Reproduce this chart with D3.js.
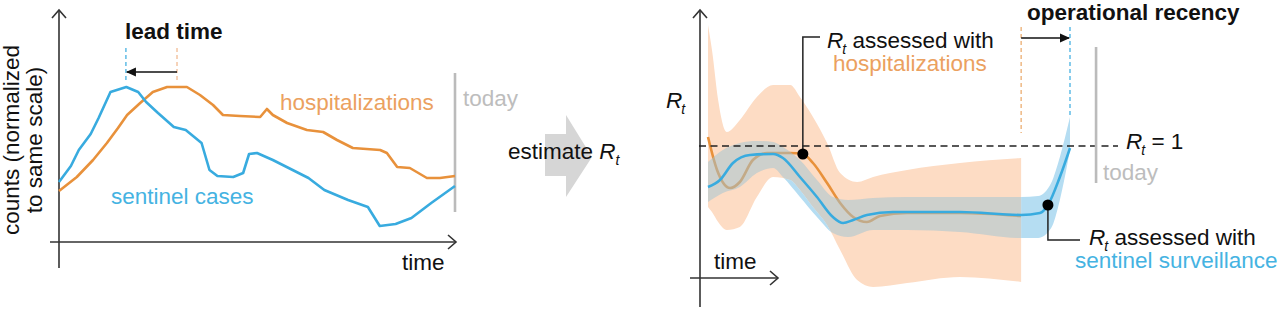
<!DOCTYPE html>
<html><head><meta charset="utf-8">
<script src="https://cdn.jsdelivr.net/npm/d3@7"></script>
<style>body{margin:0;background:#fff;} svg{display:block;font-family:"Liberation Sans",Arial,sans-serif;}</style>
</head><body><svg id="c" width="1280" height="309"></svg>
<script>
// ---------- DATA (left panel: time 0-100, counts normalized 0-100) ----------
const sentTime = [0,3,5,8,10,13,17,20,22,25,29,32,36,38,40,44,46.5,48,50,54,58,63,67,73,78,81,85,89,94,100];
const sentCounts = [30,38,46,54,62,75,77.5,75,70,64.5,57.5,56,49.5,36,33,32.5,34.5,44,44.5,41,37,32,26,21,17.5,8,9,12,19.5,28];
const hospTime = [0,4.5,8.6,12.1,14.9,17.2,20.5,23.7,27.3,32.3,35.6,38.9,41.4,45.7,50.8,52.5,54,57.6,62.6,66.7,70.2,74.2,81.1,82.8,85.4,88.6,92.9,96.2,100];
const hospCounts = [25.5,32.5,41,49.5,57,63.5,69.5,75,77.5,77.5,73.5,68.5,63.5,63,62.5,66.5,63.5,59.5,56,55,51,47,46,44.5,37.5,37,32,32,33];
const leadPeaks = [16.9, 29.8];      // peak times (sentinel, hospitalizations)
const todayLeft = 100;

// ---------- DATA (right panel: time 0-100, Rt) ----------
const hospRtTime = [0,2.5,6.1,8.8,12.4,16.3,22.7,26.2,29,32.9,36.5,40.1,43.9,47.5,55,69.6,86.5];
const hospRt = [1.045,0.88,0.79,0.82,0.93,0.965,0.965,0.96,0.915,0.815,0.715,0.645,0.62,0.65,0.665,0.665,0.65];
const hospBandTime = [0,1.1,2.8,5.2,8.8,13.5,18,22.7,25.4,29,32.9,36.5,41.2,45.6,55,69.6,86.5];
const hospBandHi = [1.605,1.48,1.23,1.07,1.13,1.245,1.305,1.305,1.245,1.145,1.015,0.865,0.82,0.845,0.88,0.915,0.94];
const hospBandLo = [0.695,0.67,0.62,0.58,0.595,0.745,0.845,0.83,0.78,0.695,0.605,0.48,0.33,0.295,0.315,0.345,0.32];
const sentRtTime = [0,3.3,6.9,11.6,18,20.7,25.4,30.1,34.5,37.3,40.1,43.9,51.1,69.6,86.5,91.7,93.9,97.2,100];
const sentRt = [0.795,0.83,0.915,0.955,0.96,0.94,0.845,0.745,0.645,0.615,0.63,0.655,0.67,0.67,0.655,0.665,0.705,0.845,0.99];
const sentBandTime = [0,4.1,8.8,13.5,18,20.7,25.4,30.1,34.5,38.7,45.6,55,69.6,86.5,91.2,94.8,97.2,100];
const sentBandHi = [0.92,0.98,1.015,1.025,1.02,0.995,0.93,0.83,0.745,0.73,0.74,0.745,0.745,0.745,0.75,0.815,0.945,1.145];
const sentBandLo = [0.72,0.765,0.795,0.865,0.89,0.845,0.745,0.645,0.565,0.545,0.58,0.58,0.57,0.54,0.54,0.59,0.73,0.98];
const rtThreshold = 1;
const recency = [86.5, 100];         // last estimate: hospitalizations, sentinel
const todayRight = 107.2;
const hospDotT = 26.2, sentDotT = 93.9;

// ---------- STYLE ----------
const BLUE = "#38abdf", ORANGE = "#e8913b", BLUE_TXT = "#45b3e2", ORANGE_TXT = "#eba15f";
const PEACH = "#fddcc4", BAND_BLUE = "#b5ddf2", GRAYTXT = "#bdbdbd", AX = "#333";
const FS = 22.5;

const svg = d3.select("#c");
const defs = svg.append("defs");
defs.append("marker").attr("id","ah").attr("viewBox","0 0 10 10").attr("refX",9).attr("refY",5)
  .attr("markerWidth",10).attr("markerHeight",10).attr("markerUnits","userSpaceOnUse").attr("orient","auto")
  .append("path").attr("d","M0,0.5 L10,5 L0,9.5 Z").attr("fill","#111");

// ---------- LEFT PANEL ----------
const xL = d3.scaleLinear().domain([0,100]).range([59,455]);
const yL = d3.scaleLinear().domain([0,100]).range([242,42]);
const L = svg.append("g");
L.append("line").attr("x1",59).attr("x2",59).attr("y1",268).attr("y2",10).attr("stroke",AX).attr("stroke-width",1.6);
L.append("path").attr("d","M52,18 L59,10 L66,18").attr("fill","none").attr("stroke",AX).attr("stroke-width",1.6);
L.append("line").attr("x1",50).attr("x2",456).attr("y1",242).attr("y2",242).attr("stroke",AX).attr("stroke-width",1.6);
L.append("path").attr("d","M448,235 L456,242 L448,249").attr("fill","none").attr("stroke",AX).attr("stroke-width",1.6);

L.append("line").attr("x1",xL(todayLeft)).attr("x2",xL(todayLeft)).attr("y1",73).attr("y2",212)
  .attr("stroke","#bbb").attr("stroke-width",2.6);

const lineL = (xs, ys) => d3.line().x((d,i)=>xL(xs[i])).y(d=>yL(d))(ys);
L.append("path").attr("d",lineL(hospTime,hospCounts)).attr("fill","none").attr("stroke",ORANGE).attr("stroke-width",2.6).attr("stroke-linejoin","round");
L.append("path").attr("d",lineL(sentTime,sentCounts)).attr("fill","none").attr("stroke",BLUE).attr("stroke-width",2.6).attr("stroke-linejoin","round");

// lead time
L.append("line").attr("x1",xL(leadPeaks[0])).attr("x2",xL(leadPeaks[0])).attr("y1",yL(97)).attr("y2",yL(81))
  .attr("stroke",BLUE).attr("stroke-width",1.2).attr("stroke-dasharray","4,3");
L.append("line").attr("x1",xL(leadPeaks[1])).attr("x2",xL(leadPeaks[1])).attr("y1",yL(97)).attr("y2",yL(81))
  .attr("stroke","#f0b68a").attr("stroke-width",1.2).attr("stroke-dasharray","4,3");
L.append("line").attr("x1",xL(leadPeaks[1])).attr("x2",xL(leadPeaks[0])+1).attr("y1",yL(85)).attr("y2",yL(85))
  .attr("stroke","#111").attr("stroke-width",1.6).attr("marker-end","url(#ah)");

L.append("text").attr("x",125).attr("y",39).attr("font-size",FS).attr("font-weight","bold").attr("fill","#111").text("lead time");
L.append("text").attr("x",280).attr("y",110).attr("font-size",FS).attr("fill",ORANGE_TXT).text("hospitalizations");
L.append("text").attr("x",111).attr("y",204).attr("font-size",FS).attr("fill",BLUE_TXT).text("sentinel cases");
L.append("text").attr("x",463).attr("y",106).attr("font-size",FS).attr("fill",GRAYTXT).text("today");
L.append("text").attr("x",402).attr("y",270).attr("font-size",FS).attr("fill","#111").text("time");
const yl = L.append("text").attr("transform","translate(19,140) rotate(-90)").attr("text-anchor","middle").attr("font-size",FS).attr("fill","#111");
yl.append("tspan").attr("x",0).attr("y",0).text("counts (normalized");
yl.append("tspan").attr("x",0).attr("y",23).text("to same scale)");

// ---------- MIDDLE ARROW ----------
svg.append("polygon").attr("points","545,134 566,134 566,115 592,157 566,197 566,176 545,176").attr("fill","#d6d6d6");
const est = svg.append("text").attr("x",508).attr("y",159).attr("font-size",FS).attr("fill","#111");
est.append("tspan").text("estimate ");
est.append("tspan").attr("font-style","italic").text("R");
est.append("tspan").attr("font-style","italic").attr("font-size",14).attr("dy",6).text("t");

// ---------- RIGHT PANEL ----------
const xR = d3.scaleLinear().domain([0,100]).range([708,1070]);
const yR = d3.scaleLinear().domain([0,2]).range([346,-54]);
const R = svg.append("g");

const hospArea = d3.area().x((d,i)=>xR(hospBandTime[i])).y0((d,i)=>yR(hospBandLo[i])).y1(d=>yR(d)).curve(d3.curveMonotoneX)(hospBandHi);
const sentArea = d3.area().x((d,i)=>xR(sentBandTime[i])).y0((d,i)=>yR(sentBandLo[i])).y1(d=>yR(d)).curve(d3.curveMonotoneX)(sentBandHi);

const mask = defs.append("mask").attr("id","outsideHosp");
mask.append("rect").attr("x",0).attr("y",0).attr("width",1280).attr("height",309).attr("fill","#fff");
mask.append("path").attr("d",hospArea).attr("fill","#000");
defs.append("clipPath").attr("id","insideHosp").append("path").attr("d",hospArea);

R.append("path").attr("d",hospArea).attr("fill",PEACH);
const lineR = (xs, ys) => d3.line().x((d,i)=>xR(xs[i])).y(d=>yR(d)).curve(d3.curveMonotoneX)(ys);
R.append("path").attr("d",lineR(hospRtTime,hospRt)).attr("fill","none").attr("stroke",ORANGE).attr("stroke-width",2.6);
R.append("path").attr("d",sentArea).attr("fill",BAND_BLUE).attr("mask","url(#outsideHosp)");
R.append("path").attr("d",sentArea).attr("fill","#9dc4d4").attr("fill-opacity",0.5).attr("clip-path","url(#insideHosp)");
R.append("path").attr("d",lineR(sentRtTime,sentRt)).attr("fill","none").attr("stroke",BLUE).attr("stroke-width",2.6);

// axes
R.append("line").attr("x1",700).attr("x2",700).attr("y1",307).attr("y2",10).attr("stroke",AX).attr("stroke-width",1.6);
R.append("path").attr("d","M693,18 L700,10 L707,18").attr("fill","none").attr("stroke",AX).attr("stroke-width",1.6);
R.append("line").attr("x1",690).attr("x2",778).attr("y1",278).attr("y2",278).attr("stroke",AX).attr("stroke-width",1.6);
R.append("path").attr("d","M770,271 L778,278 L770,285").attr("fill","none").attr("stroke",AX).attr("stroke-width",1.6);

// Rt = 1
R.append("line").attr("x1",699).attr("x2",1118).attr("y1",yR(rtThreshold)).attr("y2",yR(rtThreshold))
  .attr("stroke","#222").attr("stroke-width",1.4).attr("stroke-dasharray","7,4.5");
// today
R.append("line").attr("x1",xR(todayRight)).attr("x2",xR(todayRight)).attr("y1",47).attr("y2",183).attr("stroke","#bbb").attr("stroke-width",2.6);
// recency
R.append("line").attr("x1",xR(recency[0])).attr("x2",xR(recency[0])).attr("y1",27).attr("y2",133)
  .attr("stroke","#eaa765").attr("stroke-width",1.2).attr("stroke-dasharray","4,3");
R.append("line").attr("x1",xR(recency[1])).attr("x2",xR(recency[1])).attr("y1",27).attr("y2",117)
  .attr("stroke",BLUE).attr("stroke-width",1.2).attr("stroke-dasharray","4,3");
R.append("line").attr("x1",xR(recency[0])).attr("x2",xR(recency[1])-1).attr("y1",38).attr("y2",38)
  .attr("stroke","#111").attr("stroke-width",1.6).attr("marker-end","url(#ah)");

// callouts
const hdY = yR(hospRt[hospRtTime.indexOf(hospDotT)]);
const sdY = yR(sentRt[sentRtTime.indexOf(sentDotT)]);
R.append("path").attr("d",`M${xR(hospDotT)},${hdY} V37 H820`).attr("fill","none").attr("stroke","#222").attr("stroke-width",1.5);
R.append("path").attr("d",`M${xR(sentDotT)},${sdY} V240 H1080`).attr("fill","none").attr("stroke","#222").attr("stroke-width",1.5);
R.append("circle").attr("cx",xR(hospDotT)).attr("cy",hdY).attr("r",5.5).attr("fill","#000");
R.append("circle").attr("cx",xR(sentDotT)).attr("cy",sdY).attr("r",5.5).attr("fill","#000");

function rtText(x, y, after){
  const t = R.append("text").attr("x",x).attr("y",y).attr("font-size",FS).attr("fill","#111");
  t.append("tspan").attr("font-style","italic").text("R");
  t.append("tspan").attr("font-style","italic").attr("font-size",14).attr("dy",6).attr("dx",-1).text("t");
  if (after) t.append("tspan").attr("dy",-6).text(after);
  return t;
}
rtText(666,108,null);
rtText(827,48," assessed with");
R.append("text").attr("x",833).attr("y",71).attr("font-size",FS).attr("fill",ORANGE_TXT).text("hospitalizations");
rtText(1126,149," = 1");
R.append("text").attr("x",1103).attr("y",180).attr("font-size",FS).attr("fill",GRAYTXT).text("today");
rtText(1089,245," assessed with");
R.append("text").attr("x",1075).attr("y",268).attr("font-size",FS).attr("fill",BLUE_TXT).text("sentinel surveillance");
R.append("text").attr("x",1027).attr("y",20).attr("font-size",FS).attr("font-weight","bold").attr("fill","#111").text("operational recency");
R.append("text").attr("x",714).attr("y",269).attr("font-size",FS).attr("fill","#111").text("time");
</script></body></html>
